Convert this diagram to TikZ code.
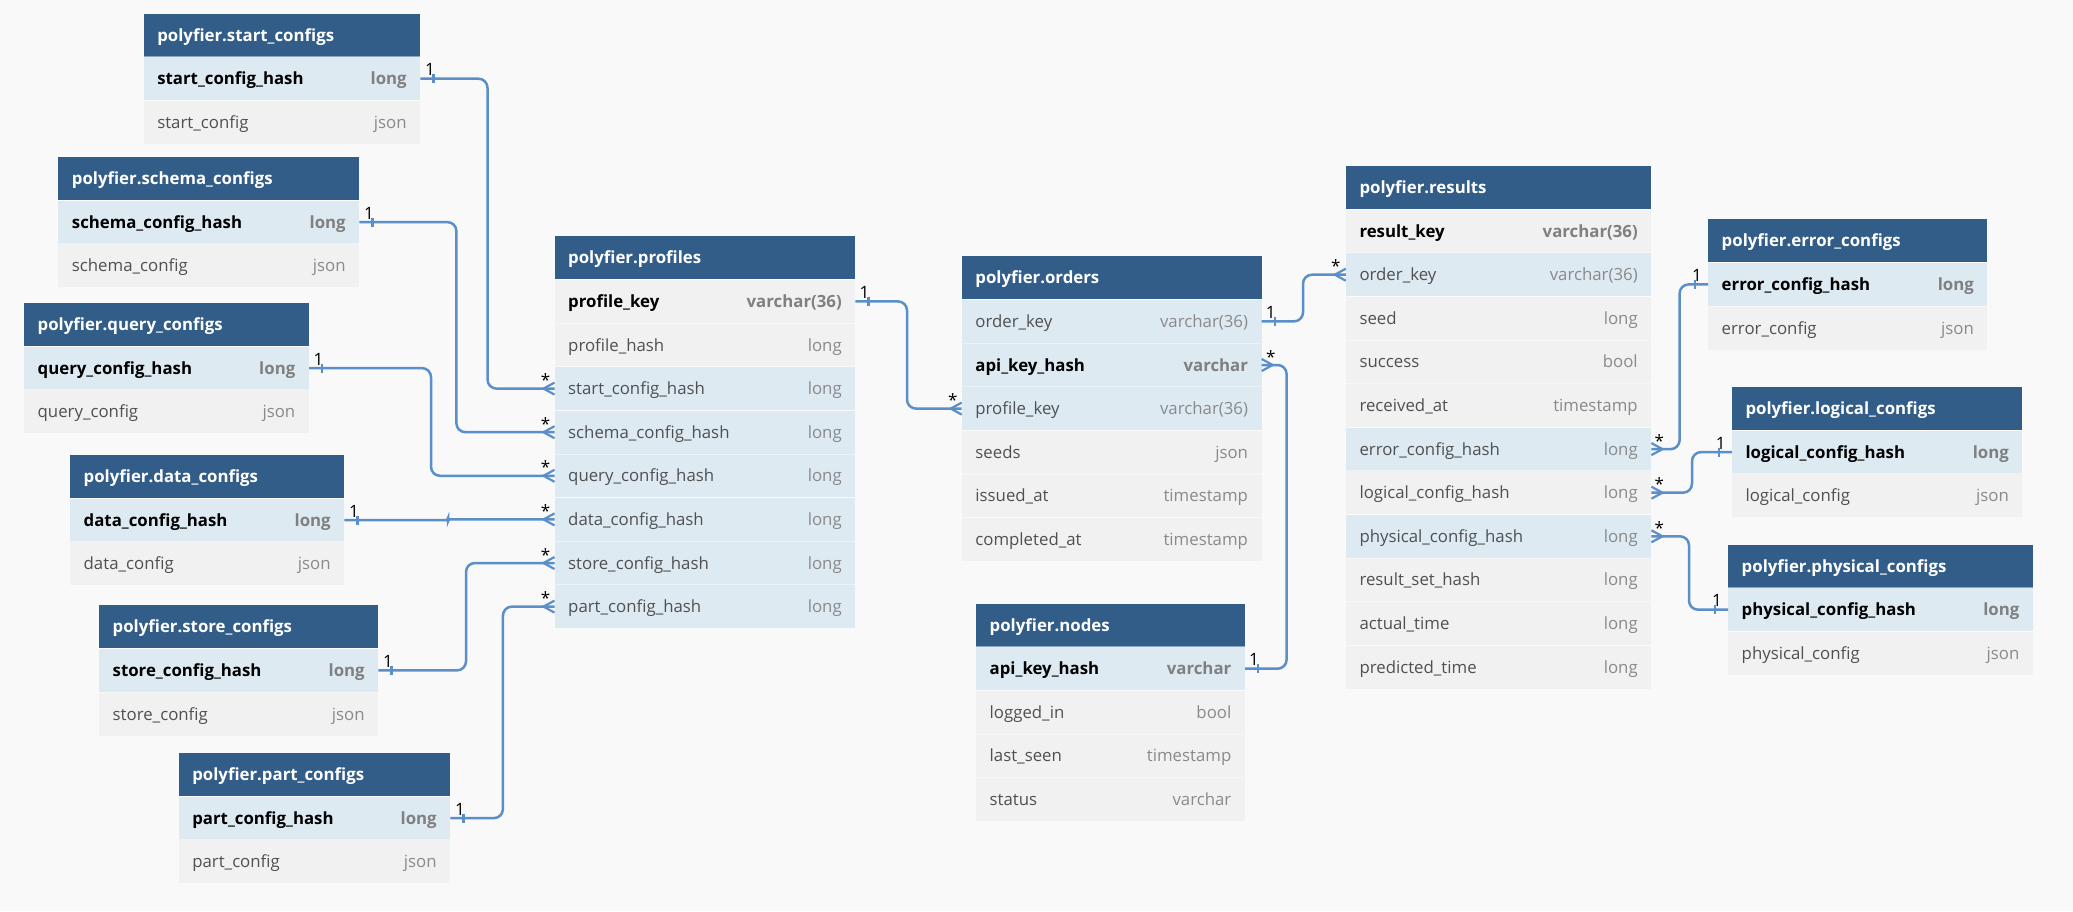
\documentclass[tikz,border=0pt]{standalone}
\usepackage{fontspec}
\setmainfont{Open Sans}
\usetikzlibrary{calc}
\definecolor{bg}{HTML}{F9F9F9}
\definecolor{hdrblue}{HTML}{325D88}
\definecolor{rowblue}{HTML}{DDEAF2}
\definecolor{rowgray}{HTML}{F1F1F1}
\definecolor{linkblue}{HTML}{5B8FC9}
\definecolor{fieldgray}{HTML}{505050}
\definecolor{typegray}{HTML}{8A8A8A}
\definecolor{typebold}{HTML}{808080}
\tikzset{
 hdr/.style={fill=hdrblue, text=white, font=\fontsize{16.8}{20}\selectfont\bfseries, minimum height=43.2pt, inner xsep=13.5pt, inner ysep=0pt, text height=14pt, text depth=2pt, anchor=north west},
 tabrow/.style={minimum height=43.2pt, inner xsep=13.5pt, inner ysep=0pt, text height=14pt, text depth=2pt, anchor=north west, font=\fontsize{16.8}{20}\selectfont},
 keyrow/.style={tabrow, fill=rowblue},
 plainrow/.style={tabrow, fill=rowgray},
 sep/.style={draw=white, draw opacity=0.45, line width=1pt},
 conn/.style={draw=linkblue, line width=2.5pt, rounded corners=9pt},
 endmark/.style={draw=linkblue, line width=2.2pt, line join=round},
 lbl/.style={font=\fontsize{17}{20}\selectfont, text=black, inner sep=0pt, anchor=base},
}
\newcommand{\tbl}[5]{%
 \def\curT{#1}\def\curN{0}%
 \pgfmathsetmacro\tw{#4-27}%
 \node[hdr, text width=\tw pt] (#1-0) at (#2,#3) {#5};}
\newcommand{\rb}[3]{%
 \pgfmathtruncatemacro\nxt{\curN+1}%
 \node[#1, text width=\tw pt] (\curT-\nxt) at (\curT-\curN.south west) {\bfseries\textcolor{black}{#2}\hfill\textcolor{typebold}{#3}};%
 \draw[sep] (\curT-\nxt.north west) -- (\curT-\nxt.north east);%
 \let\curN\nxt}
\newcommand{\rn}[3]{%
 \pgfmathtruncatemacro\nxt{\curN+1}%
 \node[#1, text width=\tw pt] (\curT-\nxt) at (\curT-\curN.south west) {\textcolor{fieldgray}{#2}\hfill\textcolor{typegray}{#3}};%
 \draw[sep] (\curT-\nxt.north west) -- (\curT-\nxt.north east);%
 \let\curN\nxt}
\newcommand\tickR[1]{\draw[endmark] ($(#1)+(13,-4.5)$) -- ($(#1)+(13,4.5)$);}
\newcommand\tickL[1]{\draw[endmark] ($(#1)+(-13,-4.5)$) -- ($(#1)+(-13,4.5)$);}
\newcommand\crowL[1]{\draw[endmark] ($(#1)+(0,-6)$) -- ($(#1)+(-11,0)$) -- ($(#1)+(0,6)$);}
\newcommand\crowR[1]{\draw[endmark] ($(#1)+(0,-6)$) -- ($(#1)+(11,0)$) -- ($(#1)+(0,6)$);}
\begin{document}
\begin{tikzpicture}[x=1pt,y=-1pt]
\path[use as bounding box, fill=bg] (0,0) rectangle (2073,911);
% ---------- tables ----------
\tbl{sc}{143.6}{13.3}{276.4}{polyfier.start\_configs}
\rb{keyrow}{start\_config\_hash}{long}
\rn{plainrow}{start\_config}{json}
\tbl{sh}{58.2}{156.7}{300.8}{polyfier.schema\_configs}
\rb{keyrow}{schema\_config\_hash}{long}
\rn{plainrow}{schema\_config}{json}
\tbl{qc}{24}{302.7}{284.6}{polyfier.query\_configs}
\rb{keyrow}{query\_config\_hash}{long}
\rn{plainrow}{query\_config}{json}
\tbl{dc}{70}{454.7}{274}{polyfier.data\_configs}
\rb{keyrow}{data\_config\_hash}{long}
\rn{plainrow}{data\_config}{json}
\tbl{st}{99}{605}{279}{polyfier.store\_configs}
\rb{keyrow}{store\_config\_hash}{long}
\rn{plainrow}{store\_config}{json}
\tbl{pc}{178.6}{752.7}{271.4}{polyfier.part\_configs}
\rb{keyrow}{part\_config\_hash}{long}
\rn{plainrow}{part\_config}{json}
\tbl{pr}{554.5}{236}{300.5}{polyfier.profiles}
\rb{plainrow}{profile\_key}{varchar(36)}
\rn{plainrow}{profile\_hash}{long}
\rn{keyrow}{start\_config\_hash}{long}
\rn{keyrow}{schema\_config\_hash}{long}
\rn{keyrow}{query\_config\_hash}{long}
\rn{keyrow}{data\_config\_hash}{long}
\rn{keyrow}{store\_config\_hash}{long}
\rn{keyrow}{part\_config\_hash}{long}
\tbl{or}{961.7}{256}{299.6}{polyfier.orders}
\rn{keyrow}{order\_key}{varchar(36)}
\rb{keyrow}{api\_key\_hash}{varchar}
\rn{keyrow}{profile\_key}{varchar(36)}
\rn{plainrow}{seeds}{json}
\rn{plainrow}{issued\_at}{timestamp}
\rn{plainrow}{completed\_at}{timestamp}
\tbl{nd}{976}{603.3}{268.6}{polyfier.nodes}
\rb{keyrow}{api\_key\_hash}{varchar}
\rn{plainrow}{logged\_in}{bool}
\rn{plainrow}{last\_seen}{timestamp}
\rn{plainrow}{status}{varchar}
\tbl{rs}{1345.8}{165.7}{305.2}{polyfier.results}
\rb{plainrow}{result\_key}{varchar(36)}
\rn{keyrow}{order\_key}{varchar(36)}
\rn{plainrow}{seed}{long}
\rn{plainrow}{success}{bool}
\rn{plainrow}{received\_at}{timestamp}
\rn{keyrow}{error\_config\_hash}{long}
\rn{plainrow}{logical\_config\_hash}{long}
\rn{keyrow}{physical\_config\_hash}{long}
\rn{plainrow}{result\_set\_hash}{long}
\rn{plainrow}{actual\_time}{long}
\rn{plainrow}{predicted\_time}{long}
\tbl{ec}{1708}{219}{279.2}{polyfier.error\_configs}
\rb{keyrow}{error\_config\_hash}{long}
\rn{plainrow}{error\_config}{json}
\tbl{lc}{1731.8}{386.7}{290.4}{polyfier.logical\_configs}
\rb{keyrow}{logical\_config\_hash}{long}
\rn{plainrow}{logical\_config}{json}
\tbl{ph}{1728}{544.3}{304.6}{polyfier.physical\_configs}
\rb{keyrow}{physical\_config\_hash}{long}
\rn{plainrow}{physical\_config}{json}
% ---------- connector bends ----------
\coordinate (v1) at (487.5,0);
\coordinate (v2) at (456.4,0);
\coordinate (v3) at (431,0);
\coordinate (v4) at (448,0);
\coordinate (v5) at (466,0);
\coordinate (v6) at (502.9,0);
\coordinate (v7) at (907,0);
\coordinate (v8) at (1303,0);
\coordinate (v9) at (1286.6,0);
\coordinate (v10) at (1679.6,0);
\coordinate (v11) at (1692,0);
\coordinate (v12) at (1689,0);
% ---------- connectors ----------
\draw[conn] (sc-1.east) -- (sc-1.east -| v1) -- (v1 |- pr-3.west) -- (pr-3.west);
\draw[conn] (sh-1.east) -- (sh-1.east -| v2) -- (v2 |- pr-4.west) -- (pr-4.west);
\draw[conn] (qc-1.east) -- (qc-1.east -| v3) -- (v3 |- pr-5.west) -- (pr-5.west);
\draw[conn, rounded corners=2pt] (dc-1.east) -- (dc-1.east -| v4) -- (v4 |- pr-6.west) -- (pr-6.west);
\draw[conn] (st-1.east) -- (st-1.east -| v5) -- (v5 |- pr-7.west) -- (pr-7.west);
\draw[conn] (pc-1.east) -- (pc-1.east -| v6) -- (v6 |- pr-8.west) -- (pr-8.west);
\draw[conn] (pr-1.east) -- (pr-1.east -| v7) -- (v7 |- or-3.west) -- (or-3.west);
\draw[conn] (or-1.east) -- (or-1.east -| v8) -- (v8 |- rs-2.west) -- (rs-2.west);
\draw[conn] (or-2.east) -- (or-2.east -| v9) -- (v9 |- nd-1.east) -- (nd-1.east);
\draw[conn] (rs-6.east) -- (rs-6.east -| v10) -- (v10 |- ec-1.west) -- (ec-1.west);
\draw[conn] (rs-7.east) -- (rs-7.east -| v11) -- (v11 |- lc-1.west) -- (lc-1.west);
\draw[conn] (rs-8.east) -- (rs-8.east -| v12) -- (v12 |- ph-1.west) -- (ph-1.west);
% ---------- end marks ----------
\tickR{sc-1.east} \crowL{pr-3.west}
\tickR{sh-1.east} \crowL{pr-4.west}
\tickR{qc-1.east} \crowL{pr-5.west}
\tickR{dc-1.east} \crowL{pr-6.west}
\tickR{st-1.east} \crowL{pr-7.west}
\tickR{pc-1.east} \crowL{pr-8.west}
\tickR{pr-1.east} \crowL{or-3.west}
\tickR{or-1.east} \crowL{rs-2.west}
\crowR{or-2.east} \tickR{nd-1.east}
\crowR{rs-6.east} \tickL{ec-1.west}
\crowR{rs-7.east} \tickL{lc-1.west}
\crowR{rs-8.east} \tickL{ph-1.west}
% ---------- cardinality labels ----------
\node[lbl] (o1) at ($(sc-1.east)+(9.5,-3)$) {1};
\node[lbl] (m1) at ($(pr-3.west)+(-9,-2)$) {*};
\node[lbl] (o2) at ($(sh-1.east)+(9.5,-3)$) {1};
\node[lbl] (m2) at ($(pr-4.west)+(-9,-2)$) {*};
\node[lbl] (o3) at ($(qc-1.east)+(9.5,-3)$) {1};
\node[lbl] (m3) at ($(pr-5.west)+(-9,-2)$) {*};
\node[lbl] (o4) at ($(dc-1.east)+(9.5,-3)$) {1};
\node[lbl] (m4) at ($(pr-6.west)+(-9,-2)$) {*};
\node[lbl] (o5) at ($(st-1.east)+(9.5,-3)$) {1};
\node[lbl] (m5) at ($(pr-7.west)+(-9,-2)$) {*};
\node[lbl] (o6) at ($(pc-1.east)+(9.5,-3)$) {1};
\node[lbl] (m6) at ($(pr-8.west)+(-9,-2)$) {*};
\node[lbl] (o7) at ($(pr-1.east)+(9,-3)$) {1};
\node[lbl] (m7) at ($(or-3.west)+(-9,-2)$) {*};
\node[lbl] (o8) at ($(or-1.east)+(9,-3)$) {1};
\node[lbl] (m8) at ($(rs-2.west)+(-10,-2)$) {*};
\node[lbl] (m9) at ($(or-2.east)+(9,-2)$) {*};
\node[lbl] (o9) at ($(nd-1.east)+(9,-3)$) {1};
\node[lbl] (m10) at ($(rs-6.east)+(8,-2)$) {*};
\node[lbl] (o10) at ($(ec-1.west)+(-11,-3)$) {1};
\node[lbl] (m11) at ($(rs-7.east)+(8,-2)$) {*};
\node[lbl] (o11) at ($(lc-1.west)+(-11,-3)$) {1};
\node[lbl] (m12) at ($(rs-8.east)+(8,-2)$) {*};
\node[lbl] (o12) at ($(ph-1.west)+(-11,-3)$) {1};
\end{tikzpicture}
\end{document}
